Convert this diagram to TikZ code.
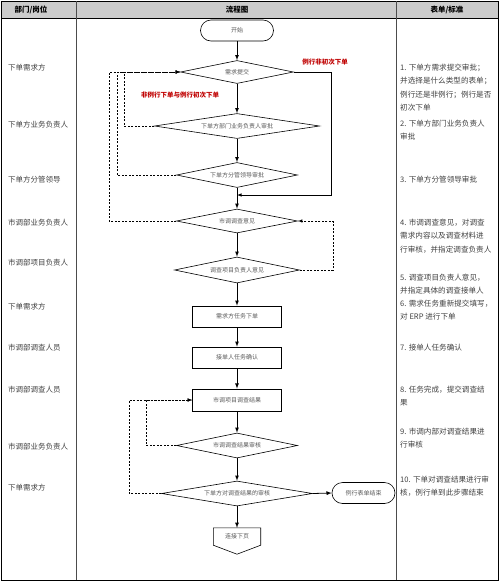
\documentclass[tikz,border=0pt]{standalone}
\usepackage{fontspec}
\setmainfont{Noto Sans CJK SC}
\usetikzlibrary{shapes.geometric}

\begin{document}
\begin{tikzpicture}[x=1pt,y=-1pt,
	dia/.style={draw, semithick, diamond, inner sep=0pt, font=\fontsize{6}{7}\selectfont, text=black!65},
	box/.style={draw, semithick, rectangle, inner sep=0pt, minimum width=89pt, minimum height=21pt, font=\fontsize{6}{7}\selectfont, text=black!65},
	term/.style={draw, semithick, rectangle, rounded corners=10.5pt, inner sep=0pt, minimum height=21pt, font=\fontsize{6}{7}\selectfont, text=black!65},
	flow/.style={->,>=latex,thick},
	back/.style={->,>=latex,semithick,dash pattern=on 2pt off 1.5pt},
	post/.style={anchor=west, inner sep=0pt, font=\fontsize{7.5}{9}\selectfont, text=black!75},
	note/.style={anchor=north west, align=left, inner sep=0pt, font=\fontsize{7.6}{13.3}\selectfont, text=black!75},
	tag/.style={font=\bfseries\fontsize{6.5}{8}\selectfont, text=red!75!black}]

	\useasboundingbox (0,0) rectangle (500,582);

	% table
	\fill [gray!40] (1.5,1) rectangle (498.5,18);
	\draw [semithick] (1.5,1) rectangle (498.5,580);
	\draw [thick] (1.5,18) -- (498.5,18);
	\draw [semithick,black!70] (76,1) -- (76,580);
	\draw [semithick,black!70] (396,1) -- (396,580);
	\node (h1) at (31,9.5){\bfseries\fontsize{7.5}{9}\selectfont 部门/岗位};
	\node (h2) at (237,9.5){\bfseries\fontsize{7.5}{9}\selectfont 流程图};
	\node (h3) at (447,9.5){\bfseries\fontsize{7.5}{9}\selectfont 表单/标准};

	% posts
	\node [post] (p1) at (8,68){下单需求方};
	\node [post] (p2) at (8,125){下单方业务负责人};
	\node [post] (p3) at (8,180){下单方分管领导};
	\node [post] (p4) at (8,223){市调部业务负责人};
	\node [post] (p5) at (8,263){市调部项目负责人};
	\node [post] (p6) at (8,307){下单需求方};
	\node [post] (p7) at (8,348){市调部调查人员};
	\node [post] (p8) at (8,390){市调部调查人员};
	\node [post] (p9) at (8,447){市调部业务负责人};
	\node [post] (p10) at (8,488){下单需求方};

	% flow
	\node [term, minimum width=73pt] (start) at (237,30.5){开始};
	\node [dia, aspect=4.9, minimum width=113pt, minimum height=23pt] (d1) at (237,72){需求提交};
	\node [dia, aspect=6.6, minimum width=165pt, minimum height=25pt] (d2) at (237,126){下单方部门业务负责人审批};
	\node [dia, aspect=4.8, minimum width=121pt, minimum height=25pt] (d3) at (237,175){下单方分管领导审批};
	\node [dia, aspect=5, minimum width=121pt, minimum height=24pt] (d4) at (237,221){市调调查意见};
	\node [dia, aspect=4.8, minimum width=125pt, minimum height=26pt] (d5) at (237,270){调查项目负责人意见};
	\node [box] (r1) at (237,316.5){需求方任务下单};
	\node [box] (r2) at (237,357.5){接单人任务确认};
	\node [box, thick, minimum height=22pt] (r3) at (237,400){市调项目调查结果};
	\node [dia, aspect=4.8, minimum width=121pt, minimum height=25pt] (d7) at (237,445.5){市调调查结果审核};
	\node [dia, aspect=6, minimum width=151pt, minimum height=25pt] (d8) at (237,493.5){下单方对调查结果的审核};
	\node [term, minimum width=63pt] (end) at (363.5,493){例行表单结束};
	\node [inner sep=0pt, minimum width=47pt, minimum height=17pt, font=\fontsize{6}{7}\selectfont, text=black!65] (nxt) at (237,536.5){连接下页};
	\draw [semithick] (nxt.south west) -- (nxt.north west) -- (nxt.north east) -- (nxt.south east) -- ([yshift=-9pt]nxt.south) -- cycle;

	%|
	\draw [flow] (start) -- (d1);
	\draw [flow] (d1) -- (d2);
	\draw [flow] (d2) -- (d3);
	\draw [flow] (d3) -- (d4);
	\draw [flow] (d4) -- (d5);
	\draw [flow] (d5) -- (r1);
	\draw [flow] (r1) -- (r2);
	\draw [flow] (r2) -- (r3);
	\draw [flow] (r3) -- (d7);
	\draw [flow] (d7) -- (d8);
	\draw [flow] (d8) -- (nxt.north);
	\draw [flow] (d8.east) -- (end.west);

	% skip
	\coordinate (rt) at (331,195);
	\coordinate (j1) at (237,195);
	\draw [->,>=latex,semithick] (d1.east) -| (rt) -- (j1);
	\node [tag] (t1) at (325,62){例行非初次下单};
	\node [tag] (t2) at (180,95){非例行下单与例行初次下单};

	% back
	\draw [back] (d2.west) -- ++(-30,0) |- (d1.west);
	\draw [back] (d3.west) -- ++(-59,0) |- (d1.west);
	\draw [back] (d4.west) -- ++(-67,0) |- (d1.west);
	\draw [back] (d5.east) -- ++(33,0) |- (d4.east);
	\draw [back] (d7.west) -- ++(-30,0) |- (r3.west);
	\draw [back] (d8.west) -- ++(-32,0) |- (r3.west);

	% notes
	\node [note] (n1) at (400,64){1. 下单方需求提交审批；\\并选择是什么类型的表单；\\例行还是非例行；例行是否\\初次下单};
	\node [note] (n2) at (400,120){2. 下单方部门业务负责人\\审批};
	\node [note] (n3) at (400,176){3. 下单方分管领导审批};
	\node [note] (n4) at (400,219){4. 市调调查意见，对调查\\需求内容以及调查材料进\\行审核，并指定调查负责人};
	\node [note] (n5) at (400,274){5. 调查项目负责人意见，\\并指定具体的调查接单人};
	\node [note] (n6) at (400,300){6. 需求任务重新提交填写，\\对 ERP 进行下单};
	\node [note] (n7) at (400,344){7. 接单人任务确认};
	\node [note] (n8) at (400,386){8. 任务完成，提交调查结\\果};
	\node [note] (n9) at (400,428){9. 市调内部对调查结果进\\行审核};
	\node [note] (n10) at (400,476){10. 下单对调查结果进行审\\核，例行单到此步骤结束};
\end{tikzpicture}
\end{document}
